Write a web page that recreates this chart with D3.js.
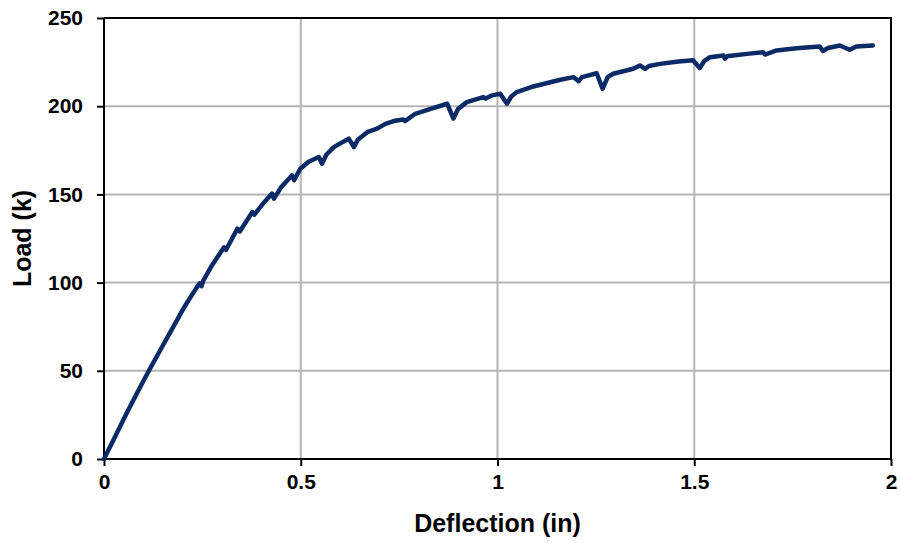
<!DOCTYPE html>
<html lang="en">
<head>
<meta charset="UTF-8">
<title>Load vs deflection</title>
<style>
    body { margin: 0; background: #fff; }
    svg { display: block; font-family: "Liberation Sans", Arial, sans-serif; }
    .tick text { font-size: 21px; font-weight: bold; fill: #000; }
</style>
</head>
<body>
<svg id="chart" width="900" height="543"></svg>
<script src="https://cdnjs.cloudflare.com/ajax/libs/d3/7.8.5/d3.min.js"></script>
<script>
// deflection (in) and load (k)
const deflection = [0, 0.03, 0.06, 0.09, 0.114, 0.14, 0.17, 0.2, 0.212, 0.235, 0.243, 0.248, 0.252, 0.275,
    0.305, 0.31, 0.339, 0.345, 0.377, 0.382, 0.405, 0.427, 0.432, 0.45, 0.478, 0.483, 0.499, 0.52, 0.546,
    0.554, 0.565, 0.584, 0.605, 0.622, 0.635, 0.645, 0.669, 0.694, 0.715, 0.74, 0.76, 0.765, 0.791, 0.83,
    0.872, 0.888, 0.9, 0.922, 0.964, 0.97, 0.985, 1.007, 1.024, 1.035, 1.049, 1.091, 1.134, 1.16, 1.193,
    1.206, 1.215, 1.252, 1.267, 1.28, 1.294, 1.345, 1.362, 1.375, 1.385, 1.413, 1.46, 1.497, 1.514, 1.525,
    1.54, 1.574, 1.578, 1.585, 1.599, 1.64, 1.675, 1.68, 1.709, 1.76, 1.819, 1.827, 1.84, 1.87, 1.895,
    1.912, 1.954]
const load = [0, 13.5, 27, 40, 50, 60.5, 72.5, 84.5, 89, 97, 99.5, 98, 101, 110,
    120, 118.5, 130.6, 129, 140, 138.5, 145, 150.5, 147.6, 154, 160.8, 158, 164.6, 168.5, 171.2,
    167.4, 172.5, 176.8, 179.5, 181.6, 176.8, 181, 185.3, 187.3, 190, 191.8, 192.5, 191.5, 195.7, 198.5,
    201.4, 193, 198.5, 202.3, 205.2, 204.3, 206, 207.1, 201.4, 205.5, 208, 211.2, 213.6, 215, 216.5,
    214.2, 216.5, 218.7, 209.9, 216.5, 218.4, 221.2, 223.1, 221.2, 222.8, 224, 225.3, 226, 221.6, 225.5,
    227.8, 228.8, 226.9, 228.5, 228.8, 229.8, 230.6, 229.3, 231.6, 232.8, 233.9, 231.3, 233, 234.4, 232,
    233.9, 234.4]
const xTicks = [0, 0.5, 1, 1.5, 2]
const yTicks = [0, 50, 100, 150, 200, 250]

const plotL = 104, plotT = 18, plotR = 891, plotB = 459

const svg = d3.select('#chart')
const x = d3.scaleLinear().domain([0, 2]).range([plotL, plotR])
const y = d3.scaleLinear().domain([0, 250]).range([plotB, plotT])

// gridlines
svg.append('g').selectAll('line').data(xTicks.slice(1, -1)).enter().append('line')
    .attr('x1', d => x(d)).attr('x2', d => x(d))
    .attr('y1', plotT).attr('y2', plotB)
    .attr('stroke', '#b4b4b4').attr('stroke-width', 2)
svg.append('g').selectAll('line').data(yTicks.slice(1, -1)).enter().append('line')
    .attr('x1', plotL).attr('x2', plotR)
    .attr('y1', d => y(d)).attr('y2', d => y(d))
    .attr('stroke', '#b4b4b4').attr('stroke-width', 2)

// frame on top and right
svg.append('path')
    .attr('d', `M${plotL},${plotT}H${plotR}V${plotB}`)
    .attr('fill', 'none').attr('stroke', '#000').attr('stroke-width', 2)

const xAxis = svg.append('g').attr('transform', `translate(0,${plotB})`)
    .call(d3.axisBottom(x).tickValues(xTicks).tickFormat(d3.format('')).tickSize(7).tickPadding(8))
const yAxis = svg.append('g').attr('transform', `translate(${plotL},0)`)
    .call(d3.axisLeft(y).tickValues(yTicks).tickSize(7).tickPadding(14))
for (const a of [xAxis, yAxis]) {
    a.select('.domain').attr('stroke', '#000').attr('stroke-width', 2)
    a.selectAll('.tick line').attr('stroke', '#000').attr('stroke-width', 2)
    a.selectAll('.tick text').style('font-family', '"Liberation Sans", Arial, sans-serif')
}
xAxis.select('.domain').attr('d', `M${plotL},0H${plotR}`)
yAxis.select('.domain').attr('d', `M0,${plotT}V${plotB}`)

const line = d3.line().x((d, i) => x(deflection[i])).y(d => y(d))
svg.append('path').datum(load)
    .attr('d', line)
    .attr('fill', 'none').attr('stroke', '#0b2a66').attr('stroke-width', 4.5)
    .attr('stroke-linejoin', 'round').attr('stroke-linecap', 'round')

svg.append('text')
    .attr('x', (plotL + plotR) / 2).attr('y', 532)
    .attr('text-anchor', 'middle')
    .style('font-size', '25px').style('font-weight', 'bold')
    .text('Deflection (in)')
svg.append('text')
    .attr('transform', `translate(31,${(plotT + plotB) / 2}) rotate(-90)`)
    .attr('text-anchor', 'middle')
    .style('font-size', '25px').style('font-weight', 'bold')
    .text('Load (k)')
</script>
</body>
</html>
